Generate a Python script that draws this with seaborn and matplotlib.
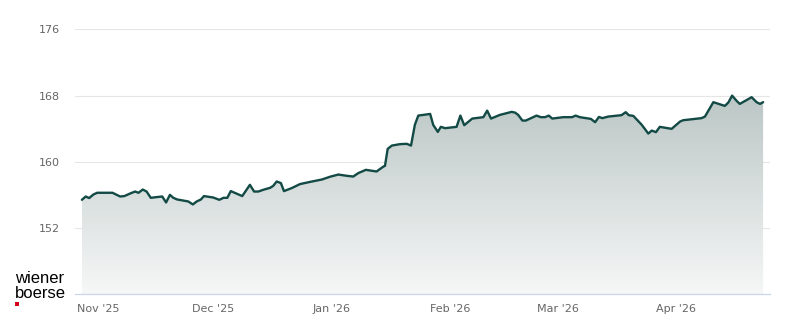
import numpy as np
import pandas as pd
import matplotlib
matplotlib.use("Agg")
import matplotlib.pyplot as plt
import matplotlib.dates as mdates
from matplotlib.colors import LinearSegmentedColormap
import seaborn as sns

# ---- data ----
start_date = "2025-11-01"
days_since_start = [
    -4.3, -3.3, -2.4, -1.3, -0.3, 3.7, 4.8, 5.7, 6.8, 8.3, 9.6, 10.5, 11.6, 12.6,
    13.7, 15.3, 16.7, 17.7, 18.7, 19.6, 20.6, 23.5, 24.7, 25.7, 26.8, 27.6, 30.0,
    31.6, 32.7, 33.7, 34.6, 36.2, 37.6, 39.6, 40.7, 41.8, 43.1, 44.9, 45.7, 46.6,
    47.7, 48.5, 50.5, 52.7, 55.8, 58.4, 60.5, 62.7, 64.9, 66.6, 67.9, 69.9, 72.7,
    74.5, 74.9, 75.6, 76.7, 78.8, 80.6, 81.7, 82.7, 83.6, 86.7, 87.5, 88.7, 89.5,
    90.6, 93.6, 94.6, 95.6, 97.7, 100.6, 101.6, 102.6, 104.9, 108.0, 108.9, 109.7,
    110.8, 111.7, 114.5, 115.6, 116.7, 117.7, 118.6, 121.5, 123.8, 124.7, 125.8,
    128.7, 129.8, 130.8, 131.7, 133.2, 136.7, 137.8, 138.6, 139.8, 142.0, 143.7,
    144.6, 145.7, 146.7, 149.8, 152.0, 152.8, 157.6, 158.5, 160.7, 163.7, 164.6,
    165.6, 166.8, 167.6, 170.7, 172.0, 172.9, 173.7,
]
prices = [
    155.41, 155.81, 155.62, 156.05, 156.26, 156.26, 156.01, 155.81, 155.86, 156.17,
    156.41, 156.26, 156.65, 156.41, 155.65, 155.74, 155.81, 155.09, 156.01, 155.65,
    155.45, 155.21, 154.85, 155.21, 155.45, 155.86, 155.69, 155.41, 155.65, 155.65,
    156.46, 156.14, 155.86, 157.22, 156.41, 156.41, 156.62, 156.86, 157.10, 157.62,
    157.43, 156.46, 156.82, 157.31, 157.62, 157.86, 158.19, 158.46, 158.31, 158.22,
    158.63, 159.03, 158.83, 159.43, 159.51, 161.56, 161.96, 162.13, 162.17, 161.96,
    164.46, 165.58, 165.78, 164.46, 163.61, 164.22, 164.06, 164.22, 165.58, 164.42,
    165.22, 165.39, 166.18, 165.22, 165.66, 166.03, 165.94, 165.66, 164.98, 164.98,
    165.58, 165.39, 165.39, 165.58, 165.22, 165.39, 165.39, 165.58, 165.39, 165.18,
    164.78, 165.42, 165.27, 165.46, 165.63, 165.99, 165.63, 165.54, 164.46, 163.41,
    163.77, 163.58, 164.22, 163.98, 164.86, 165.02, 165.27, 165.46, 167.20, 166.75,
    167.15, 167.99, 167.35, 166.99, 167.80, 167.20, 166.99, 167.20,
]
y_ticks = [152, 160, 168, 176]
x_tick_dates = ["2025-11-01", "2025-12-01", "2026-01-01", "2026-02-01", "2026-03-01", "2026-04-01"]
x_tick_labels = ["Nov '25", "Dec '25", "Jan '26", "Feb '26", "Mar '26", "Apr '26"]

base = pd.Timestamp(start_date)
df = pd.DataFrame({
    "date": base + pd.to_timedelta(days_since_start, unit="D"),
    "price": prices,
})

# ---- figure ----
sns.set_theme(style="white")
plt.rcParams["font.family"] = ["DejaVu Sans"]
fig = plt.figure(figsize=(8.0, 3.24), dpi=100)
ax = fig.add_axes([75 / 800, 1 - 294.3 / 324, (770 - 75) / 800, (294.3 - 29.3) / 324])

ymin, ymax = 144, 176
xmin = base + pd.Timedelta(days=-6.1)
xmax = base + pd.Timedelta(days=175.5)

# gradient area under the line
xnum = mdates.date2num(df["date"])
poly = ax.fill_between(df["date"], df["price"], ymin, color="none", lw=0)
cmap = LinearSegmentedColormap.from_list("g", ["#f6f7f7", "#bac6c4"])
grad = np.linspace(0, 1, 256).reshape(-1, 1)
top_val = 168.5
img = ax.imshow(grad, aspect="auto", cmap=cmap, origin="lower",
                extent=[xnum.min(), xnum.max(), ymin, top_val], zorder=1,
                interpolation="bilinear")
img.set_clip_path(poly.get_paths()[0], transform=ax.transData)

sns.lineplot(data=df, x="date", y="price", ax=ax, color="#134a45", lw=1.7, zorder=3,
             sort=False)

ax.set_xlim(xmin, xmax)
ax.set_ylim(ymin, ymax)
ax.set_xlabel("")
ax.set_ylabel("")

ax.set_yticks(y_ticks)
ax.set_yticklabels([str(v) for v in y_ticks])
ax.yaxis.grid(True, color="#e6e6e6", lw=0.8)
ax.set_axisbelow(True)
ax.tick_params(axis="y", length=0, pad=11, labelsize=8, labelcolor="#666666")

ax.set_xticks(pd.to_datetime(x_tick_dates))
ax.set_xticklabels(x_tick_labels)
ax.tick_params(axis="x", length=6.5, width=0.8, color="#ccd6eb", direction="out",
               pad=0.5, labelsize=8, labelcolor="#666666")

for s in ["top", "right", "left"]:
    ax.spines[s].set_visible(False)
ax.spines["bottom"].set_color("#ccd6eb")
ax.spines["bottom"].set_linewidth(0.9)
ax.spines["bottom"].set_zorder(4)

# logo
fig.text(15 / 800, 1 - 283 / 324, "wiener", family=["Liberation Sans", "DejaVu Sans"],
         fontsize=12, color="#000000", va="baseline", ha="left")
fig.text(15 / 800, 1 - 298 / 324, "boerse", family=["Liberation Sans", "DejaVu Sans"],
         fontsize=12, color="#000000", va="baseline", ha="left")
fig.patches.append(plt.Rectangle((15 / 800, 1 - 306 / 324), 4 / 800, 4 / 324,
                                 transform=fig.transFigure, color="#d0021b", lw=0))

fig.savefig("out.png", dpi=100)
